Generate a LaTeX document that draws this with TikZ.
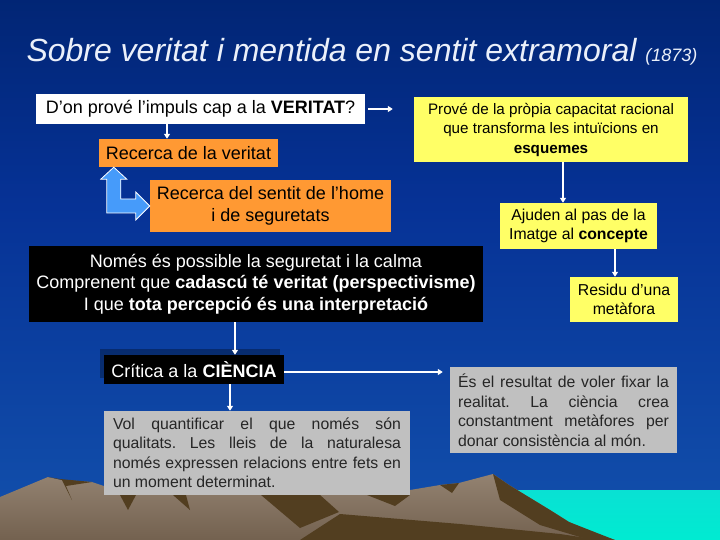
\documentclass[tikz,border=0pt]{standalone}
\usepackage{fontspec}
\setmainfont{Liberation Sans}
\usetikzlibrary{arrows.meta,calc,shadows}
\frenchspacing

\definecolor{skya}{RGB}{45,185,215}
\definecolor{skyb}{RGB}{40,160,205}
\definecolor{skyc}{RGB}{18,80,172}
\definecolor{skyd}{RGB}{6,50,150}
\definecolor{skye}{RGB}{0,34,108}
\definecolor{skyf}{RGB}{0,24,72}
\definecolor{boxyellow}{RGB}{255,255,102}
\definecolor{boxorange}{RGB}{255,153,51}
\definecolor{boxgray}{RGB}{192,192,192}
\definecolor{arrowblue}{RGB}{70,155,250}
\definecolor{rockbrown}{RGB}{128,108,88}
\definecolor{rockdark}{RGB}{82,62,32}
\definecolor{lagoon}{RGB}{0,235,210}
\definecolor{titlegray}{RGB}{235,240,250}

\pgfdeclareverticalshading{sky}{100bp}{color(0bp)=(skya); color(13bp)=(skyb);
  color(26bp)=(skyc); color(56bp)=(skyd); color(80bp)=(skye); color(100bp)=(skyf)}

\begin{document}
\begin{tikzpicture}[x=1pt,y=-1pt,
    bigtext/.style={font=\fontsize{18}{21.5}\selectfont},
    smalltext/.style={font=\fontsize{15.8}{19.5}\selectfont},
    whitebox/.style={fill=white, text=black, inner sep=0pt, align=center, bigtext},
    orangebox/.style={fill=boxorange, text=black, inner sep=0pt, align=center, bigtext},
    yellowbox/.style={fill=boxyellow, text=black, inner sep=0pt, align=center, smalltext},
    blackbox/.style={fill=black, text=white, inner sep=0pt, align=center, bigtext},
    graybox/.style={fill=boxgray, text=black!85, inner sep=0pt, align=justify, smalltext},
    link/.style={draw=white, line width=1.4pt, -{Triangle[width=6pt,length=5pt]}},
    rock/.style={fill=rockdark}]
  \useasboundingbox (0,0) rectangle (720,540);
  % background: sky, lagoon and mountains
  \shade[shading=sky] (0,0) rectangle (720,540);
  \shade[top color=lagoon!80!skya, bottom color=lagoon] (500,490) rectangle (720,540);
  \shade[top color=rockbrown!85!white, bottom color=rockbrown!90!black]
    (0,497) -- (48,477) -- (62,480) -- (92,482) -- (104,486) -- (410,490)
    -- (440,485) -- (459,483) -- (493,474) -- (509,485) -- (550,510)
    -- (569,522) -- (600,535) -- (615,540) -- (0,540) -- cycle;
  \fill[rock] (48,477) -- (62,480) -- (72,500) -- (66,486) -- (92,482) -- (60,479) -- cycle;
  \fill[rock] (120,495) -- (128,510) -- (136,495) -- cycle;
  \fill[rock] (173,495) -- (190,510) -- (186,495) -- cycle;
  \fill[rock] (261,495) -- (300,528) -- (339,512) -- (320,495) -- cycle;
  \fill[rock] (367,495) -- (395,506) -- (410,495) -- cycle;
  \fill[rock] (300,540) -- (340,514) -- (460,524) -- (560,534) -- (600,540) -- cycle;
  \fill[rock] (493,474) -- (500,500) -- (540,525) -- (590,540) -- (615,540)
    -- (569,522) -- (550,510) -- (509,485) -- cycle;
  \fill[rock] (440,485) -- (452,493) -- (459,483) -- cycle;
  % title
  \node[anchor=base, text=titlegray, font=\fontsize{32}{38}\selectfont\itshape] (title) at (362,62)
    {Sobre veritat i mentida en sentit extramoral {\fontsize{18}{22}\selectfont(1873)}};
  % coordinates for the boxes
  \coordinate (impulsc)   at (200.5,109);
  \coordinate (capacitc)  at (551,129.5);
  \coordinate (recercac)  at (188.5,153);
  \coordinate (sentitc)   at (270.5,206);
  \coordinate (calmac)    at (256,284);
  \coordinate (criticac)  at (194,369.5);
  \coordinate (quantc)    at (257,453);
  \coordinate (resultc)   at (563.5,410);
  \coordinate (ajudenc)   at (578.5,226);
  \coordinate (residuc)   at (624,299.5);
  % drawing the boxes
  \node[whitebox, minimum width=329, minimum height=30] (impuls) at (impulsc)
    {D’on prové l’impuls cap a la \textbf{VERITAT}?};
  \node[yellowbox, minimum width=274, minimum height=65, font=\fontsize{15.2}{19.5}\selectfont] (capacitat) at (capacitc)
    {Prové de la pròpia capacitat racional\\que transforma les intuïcions en\\\textbf{esquemes}};
  \node[orangebox, minimum width=179, minimum height=28] (recerca) at (recercac)
    {Recerca de la veritat};
  \node[orangebox, minimum width=241, minimum height=52] (sentit) at (sentitc)
    {Recerca del sentit de l’home\\i de seguretats};
  \node[blackbox, minimum width=454, minimum height=76] (calma) at (calmac)
    {Només és possible la seguretat i la calma\\
     Comprenent que \textbf{cadascú té veritat (perspectivisme)}\\
     I que \textbf{tota percepció és una interpretació}};
  \node[blackbox, minimum width=180, minimum height=29,
    drop shadow={shadow xshift=-4pt, shadow yshift=6pt, fill=black, opacity=0.3}] (critica) at (criticac)
    {Crítica a la \textbf{CIÈNCIA}};
  \node[graybox, minimum width=306, minimum height=84, text width=288] (quantificar) at (quantc)
    {\makebox[288pt][s]{Vol quantificar el que només són}\\
     \makebox[288pt][s]{qualitats. Les lleis de la naturalesa}\\
     \makebox[288pt][s]{només expressen relacions entre fets en}\\
     un moment determinat.};
  \node[graybox, minimum width=227, minimum height=86, text width=211] (resultat) at (resultc)
    {\makebox[211pt][s]{És el resultat de voler fixar la}\\
     \makebox[211pt][s]{realitat. La ciència crea}\\
     \makebox[211pt][s]{constantment metàfores per}\\
     donar consistència al món.};
  \node[yellowbox, minimum width=157, minimum height=46] (ajuden) at (ajudenc)
    {Ajuden al pas de la\\Imatge al \textbf{concepte}};
  \node[yellowbox, minimum width=108, minimum height=45] (residu) at (residuc)
    {Residu d'una\\metàfora};
  % coordinates for the connectors
  \coordinate (xa) at (167,0);
  \coordinate (xb) at (563,0);
  \coordinate (xc) at (615,0);
  \coordinate (xd) at (235,0);
  \coordinate (xe) at (230,0);
  \coordinate (ya) at (0,372);
  % drawing the connectors
  \draw[link, shorten <=3pt, shorten >=21pt] (impuls.east) -- (capacitat.west |- impuls.east);
  \draw[link] (xa |- impuls.south) -- (xa |- recerca.north);
  \draw[link] (xb |- capacitat.south) -- (xb |- ajuden.north);
  \draw[link] (xc |- ajuden.south) -- (xc |- residu.north);
  \draw[link] (xd |- calma.south) -- (xd |- critica.north);
  \draw[link] (xe |- critica.south) -- (xe |- quantificar.north);
  \draw[link, shorten >=7pt] (critica.east |- ya) -- (resultat.west |- ya);
  % drawing the bent double arrow
  \coordinate (up) at ([xshift=15pt]recerca.south west);
  \coordinate (rt) at (sentit.west);
  \coordinate (bend) at (up |- rt);
  \filldraw[fill=arrowblue, draw=white, line width=0.8pt]
    (up) -- ($(up)+(13,12)$) -- ($(up)+(7,12)$) -- ($(bend)+(7,-7)$)
    -- ($(rt)+(-14,-7)$) -- ($(rt)+(-14,-14)$) -- (rt) -- ($(rt)+(-14,14)$)
    -- ($(rt)+(-14,7)$) -- ($(bend)+(-7,7)$) -- ($(up)+(-7,12)$)
    -- ($(up)+(-13,12)$) -- cycle;
\end{tikzpicture}
\end{document}
